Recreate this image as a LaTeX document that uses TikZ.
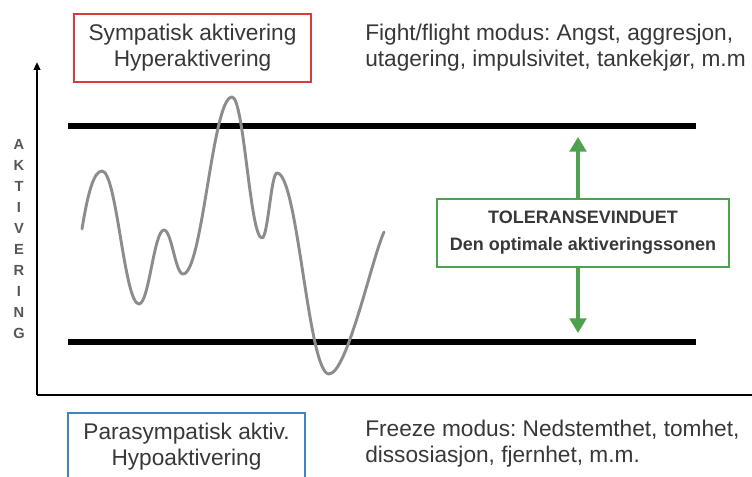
\documentclass[tikz,border=0pt]{standalone}
\usepackage{fontspec}
\setmainfont{Liberation Sans}
\usetikzlibrary{arrows.meta}
\frenchspacing
\definecolor{boxred}{HTML}{D93A3A}
\definecolor{boxblue}{HTML}{3D85C6}
\definecolor{boxgreen}{HTML}{4EA24E}
\definecolor{curvegray}{HTML}{8C8C8C}
\definecolor{txtgray}{HTML}{383838}
\tikzset{
  regtext/.style={font=\fontsize{17}{19.5}\selectfont, text=txtgray, inner sep=0pt, align=center},
  sidetext/.style={font=\fontsize{17}{19.5}\selectfont, text=txtgray, inner sep=0pt, align=left, anchor=west},
  framebox/.style={regtext, draw, line width=1.7pt, minimum width=177.75pt, minimum height=51pt},
  tolbox/.style={draw=boxgreen, line width=1.7pt, minimum width=219pt, minimum height=51pt, inner sep=0pt,
    font=\fontsize{13.5}{20.25}\selectfont\bfseries, text=txtgray, align=center},
  bar/.style={line width=4.5pt},
  axisline/.style={line width=1.5pt},
  garrow/.style={draw=boxgreen, line width=2.4pt, -{Triangle[width=12.5pt,length=11pt]}},
  wave/.style={draw=curvegray, line width=2.2pt, line cap=round, line join=round}
}
\begin{document}
\begin{tikzpicture}[x=0.75pt,y=-0.75pt]
\useasboundingbox (0,0) rectangle (752,477);
% axes
\coordinate (origin) at (37,395);
\coordinate (ytip) at (37,62);
\coordinate (xend) at (753,395);
\draw[axisline, -{Triangle[width=5pt,length=6pt]}] (origin) -- (ytip);
\draw[axisline] (origin) -- (xend);
\node[font=\fontsize{11}{15.7}\selectfont\bfseries, text=txtgray!85, align=center, inner sep=0pt] (ylab) at (19,239)
  {A\\K\\T\\I\\V\\E\\R\\I\\N\\G};
% bars
\coordinate (topL) at (68,126.5);
\coordinate (topR) at (696,126.5);
\coordinate (botL) at (68,341.5);
\coordinate (botR) at (696,341.5);
\draw[bar] (topL) -- (topR);
\draw[bar] (botL) -- (botR);
% wave
\coordinate (w0) at (82,229);
\draw[wave] (w0)
  .. controls (88,192) and (94,171) .. (102,171)
  .. controls (116.8,171) and (124.2,304) .. (139,304)
  .. controls (149,304) and (154,230) .. (164,230)
  .. controls (171.6,230) and (175.4,274) .. (183,274)
  .. controls (202.6,274) and (212.4,97) .. (232,97)
  .. controls (244,97) and (250,238) .. (262,238)
  .. controls (268,238) and (271,173) .. (277,173)
  .. controls (297.8,173) and (308.2,374) .. (329,374)
  .. controls (347,374) and (372,258) .. (384,232);
% boxes
\node[framebox, draw=boxred] (hyper) at (192.5,48) {Sympatisk aktivering\\Hyperaktivering};
\node[framebox, draw=boxblue] (hypo) at (186.5,447) {Parasympatisk aktiv.\\Hypoaktivering};
\node[sidetext] (fight) at (365,48) {Fight/flight modus: Angst, aggresjon,\\utagering, impulsivitet, tankekjør, m.m};
\node[sidetext] (freeze) at (365,444) {Freeze modus: Nedstemthet, tomhet,\\dissosiasjon, fjernhet, m.m.};
% tolerance window
\node[tolbox] (tol) at (583,233) {TOLERANSEVINDUET\\Den optimale aktiveringssonen};
\coordinate (uptip) at (578,137);
\coordinate (downtip) at (578,333);
\draw[garrow] (tol.north -| uptip) -- (uptip);
\draw[garrow] (tol.south -| downtip) -- (downtip);
\end{tikzpicture}
\end{document}
